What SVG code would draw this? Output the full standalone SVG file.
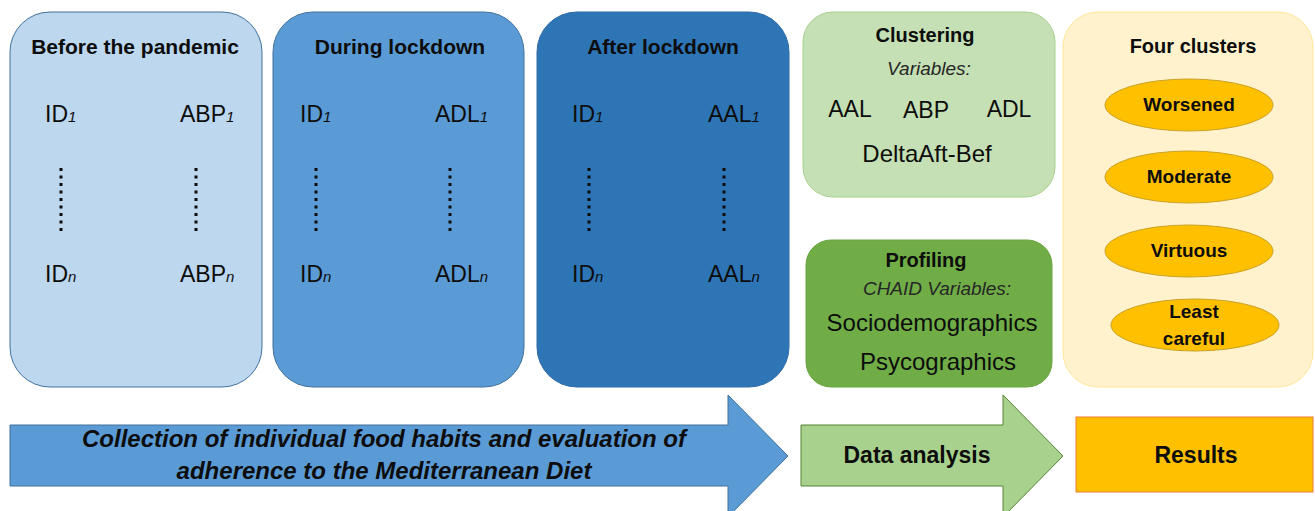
<svg xmlns="http://www.w3.org/2000/svg" width="1315" height="511" viewBox="0 0 1315 511">
<style>
text{font-family:"Liberation Sans",Arial,sans-serif;fill:#0d0d0d}
.t{font-weight:bold;font-size:21px;text-anchor:middle}
.t2{font-weight:bold;font-size:20px;text-anchor:middle}
.v{font-size:23px}
.s{font-size:15px;font-style:italic}
.it{font-style:italic;font-size:19px;text-anchor:middle;fill:#262626}
.r{font-size:24px;text-anchor:middle}
.e{font-weight:bold;font-size:19px;text-anchor:middle}
.dots{stroke:#0d0d0d;stroke-width:3;stroke-dasharray:3 4.5}
.big{font-weight:bold;font-size:23px;text-anchor:middle}
</style>
<rect width="1315" height="511" fill="#ffffff"/>
<g id="before">
<rect x="10" y="12" width="252" height="375" rx="40" fill="#BDD7EE" stroke="#41719C" stroke-width="1"/>
<text class="t" x="135" y="54">Before the pandemic</text>
<text class="v" x="45" y="122">ID<tspan class="s">1</tspan></text>
<text class="v" x="180" y="122">ABP<tspan class="s">1</tspan></text>
<line class="dots" x1="61" y1="168" x2="61" y2="231"/>
<line class="dots" x1="196" y1="168" x2="196" y2="231"/>
<text class="v" x="45" y="282">ID<tspan class="s">n</tspan></text>
<text class="v" x="180" y="282">ABP<tspan class="s">n</tspan></text>
</g>
<g id="during">
<rect x="273" y="12" width="251" height="375" rx="40" fill="#5B9BD5" stroke="#41719C" stroke-width="1"/>
<text class="t" x="400" y="54">During lockdown</text>
<text class="v" x="300" y="122">ID<tspan class="s">1</tspan></text>
<text class="v" x="435" y="122">ADL<tspan class="s">1</tspan></text>
<line class="dots" x1="316" y1="168" x2="316" y2="231"/>
<line class="dots" x1="450" y1="168" x2="450" y2="231"/>
<text class="v" x="300" y="282">ID<tspan class="s">n</tspan></text>
<text class="v" x="435" y="282">ADL<tspan class="s">n</tspan></text>
</g>
<g id="after">
<rect x="537" y="12" width="252" height="375" rx="40" fill="#2E75B6" stroke="#2E6AA8" stroke-width="1"/>
<text class="t" x="663" y="54">After lockdown</text>
<text class="v" x="572" y="122">ID<tspan class="s">1</tspan></text>
<text class="v" x="708" y="122">AAL<tspan class="s">1</tspan></text>
<line class="dots" x1="589" y1="168" x2="589" y2="231"/>
<line class="dots" x1="724" y1="168" x2="724" y2="231"/>
<text class="v" x="572" y="282">ID<tspan class="s">n</tspan></text>
<text class="v" x="708" y="282">AAL<tspan class="s">n</tspan></text>
</g>
<g id="clustering">
<rect x="803" y="12" width="252" height="185" rx="30" fill="#C5E0B4" stroke="#A9D18E" stroke-width="1"/>
<text class="t2" x="925" y="42">Clustering</text>
<text class="it" x="929" y="75">Variables:</text>
<text class="v" x="850" y="117" text-anchor="middle">AAL</text>
<text class="v" x="926" y="118" text-anchor="middle">ABP</text>
<text class="v" x="1009" y="117" text-anchor="middle">ADL</text>
<text class="r" x="927" y="162">DeltaAft-Bef</text>
</g>
<g id="profiling">
<rect x="806" y="240" width="246" height="147" rx="25" fill="#70AD47" stroke="#6AA442" stroke-width="1"/>
<text class="t2" x="926" y="267">Profiling</text>
<text class="it" x="937" y="295">CHAID Variables:</text>
<text class="r" x="932" y="331">Sociodemographics</text>
<text class="r" x="938" y="370">Psycographics</text>
</g>
<g id="four-clusters">
<rect x="1063" y="12" width="250" height="375" rx="35" fill="#FFF2CC" stroke="#FFE699" stroke-width="1"/>
<text class="t2" x="1193" y="53">Four clusters</text>
<ellipse cx="1189" cy="105" rx="84" ry="26" fill="#FFC000" stroke="#C9A227" stroke-width="1"/>
<text class="e" x="1189" y="111">Worsened</text>
<ellipse cx="1189" cy="177" rx="84" ry="26" fill="#FFC000" stroke="#C9A227" stroke-width="1"/>
<text class="e" x="1189" y="183">Moderate</text>
<ellipse cx="1189" cy="251" rx="84" ry="26" fill="#FFC000" stroke="#C9A227" stroke-width="1"/>
<text class="e" x="1189" y="257">Virtuous</text>
<ellipse cx="1195" cy="325" rx="84" ry="26" fill="#FFC000" stroke="#C9A227" stroke-width="1"/>
<text class="e" x="1194" y="318">Least</text>
<text class="e" x="1194" y="345">careful</text>
</g>
<g id="connectors">
<g id="collection-arrow">
<path d="M10,425 H728 V395 L788,456 L728,517 V486 H10 Z" fill="#5B9BD5" stroke="#41719C" stroke-width="1"/>
<text x="384" y="447" font-size="24" font-weight="bold" font-style="italic" text-anchor="middle">Collection of individual food habits and evaluation of</text>
<text x="384" y="479" font-size="24" font-weight="bold" font-style="italic" text-anchor="middle">adherence to the Mediterranean Diet</text>
</g>
<g id="analysis-arrow">
<path d="M801,425 H1003 V395 L1063,456 L1003,517 V486 H801 Z" fill="#A9D18E" stroke="#548235" stroke-width="1"/>
<text class="big" x="917" y="463">Data analysis</text>
</g>
</g>
<g id="results">
<rect x="1076" y="417" width="237" height="75" fill="#FFC000" stroke="#ED7D31" stroke-width="1"/>
<text class="big" x="1196" y="463">Results</text>
</g>
</svg>
